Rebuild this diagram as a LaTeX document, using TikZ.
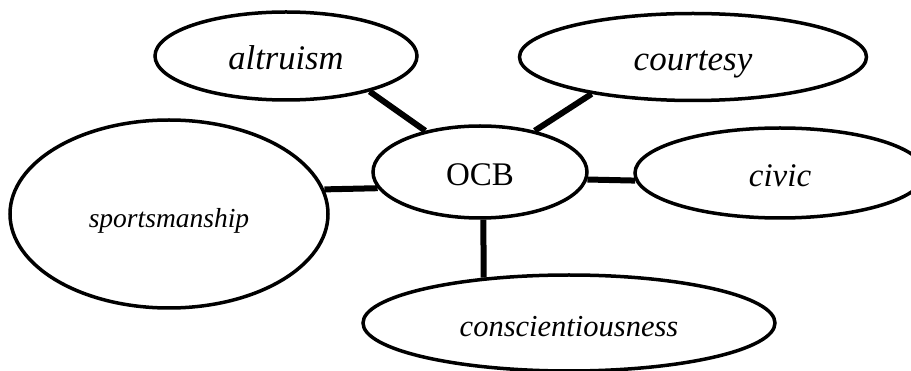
\documentclass[tikz,border=0pt]{standalone}
\usepackage{fontspec}
\setmainfont{Liberation Serif}
\usetikzlibrary{shapes.geometric}

\begin{document}
\begin{tikzpicture}[x=1pt, y=-1pt,
  trait/.style={draw, ellipse, line width=3.5pt, inner sep=0pt, text height=27pt, text depth=0pt},
  link/.style={line width=6pt}]
\useasboundingbox (0,0) rectangle (911,371);
% the five dimensions round the centre
\node[trait, minimum width=262pt, minimum height=88pt, font=\fontsize{34.5}{40}\selectfont\itshape] (alt) at (286,56) {altruism};
\node[trait, minimum width=347pt, minimum height=87pt, font=\fontsize{35}{40}\selectfont\itshape] (court) at (693,57) {courtesy};
\node[trait, minimum width=318pt, minimum height=188pt, font=\fontsize{27.5}{32}\selectfont\itshape] (sport) at (169,214) {sportsmanship};
\node[trait, minimum width=214pt, minimum height=92pt, font=\fontsize{33}{38}\selectfont] (ocb) at (480,172) {OCB};
\node[trait, minimum width=290pt, minimum height=90pt, font=\fontsize{33}{38}\selectfont\itshape] (civic) at (780,173) {civic};
\node[trait, minimum width=412pt, minimum height=96pt, font=\fontsize{30.5}{35}\selectfont\itshape] (consc) at (569,323) {conscientiousness};
\draw[link] (alt.-23) -- (ocb.143);
\draw[link] (court.200) -- (ocb.37);
\draw[link] (sport.9) -- (ocb.189);
\draw[link] (ocb.-4) -- (civic.183);
\draw[link] (ocb.274) -- (consc.152);
\end{tikzpicture}
\end{document}
